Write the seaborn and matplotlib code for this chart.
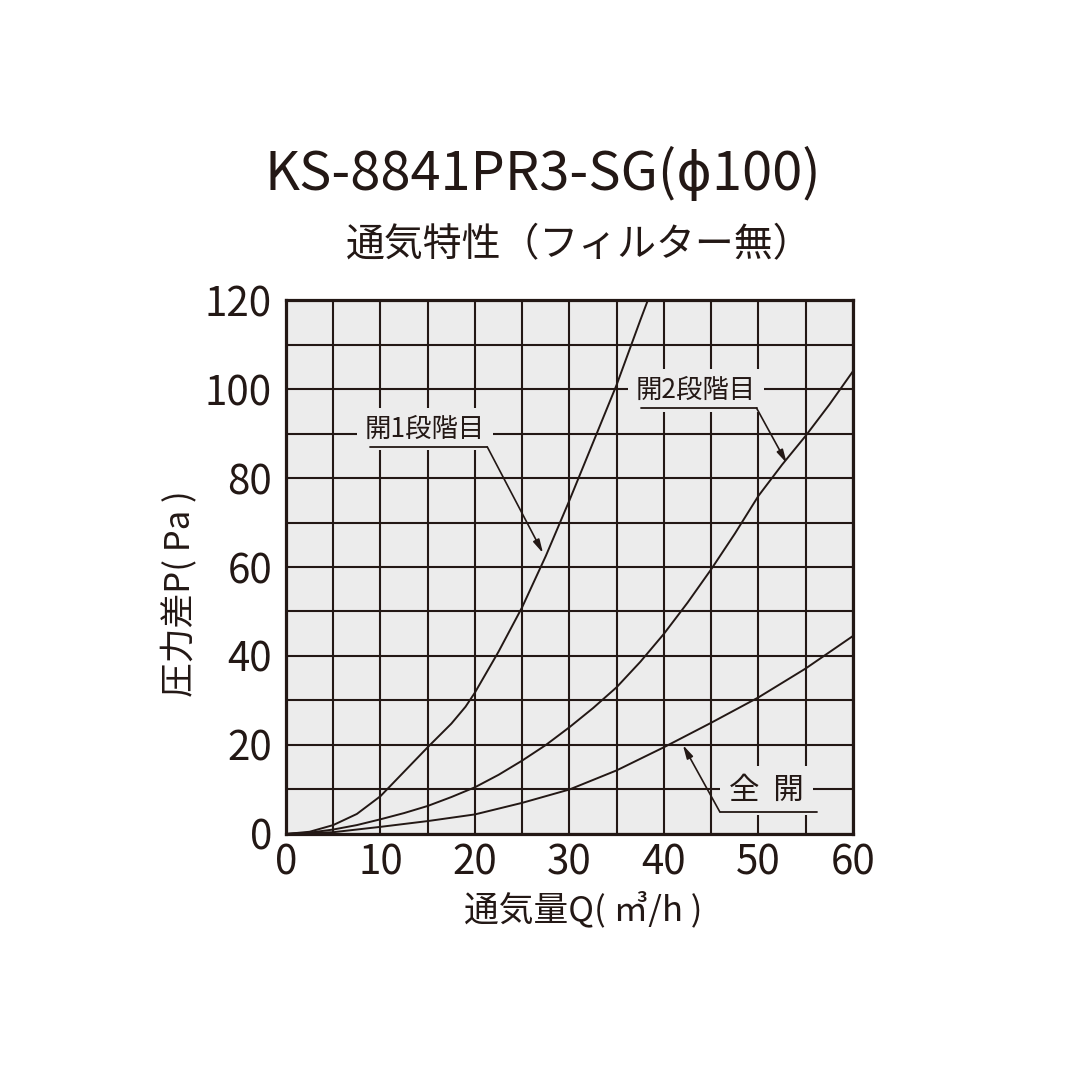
import pandas as pd
import matplotlib.pyplot as plt
import seaborn as sns

sns.set_style("white")
plt.rcParams['font.family'] = ['Noto Sans CJK JP', 'DejaVu Sans']

INK = "#231815"
BG = "#ececec"

# readings: airflow Q (m3/h) vs pressure difference P (Pa)
q_step1 = [0, 2.5, 5, 7.5, 10, 12.5, 15, 17.5, 19, 20, 22.5, 25, 27.5, 30, 32.5, 35, 37.5, 38.3]
p_step1 = [0, 0.5, 2, 4.5, 8.5, 14, 19.5, 24.8, 28.6, 31.8, 41, 51, 62.5, 75, 88, 101, 115.5, 120]

q_step2 = [0, 2.5, 5, 7.5, 10, 12.5, 15, 17.5, 20, 22.5, 25, 27.5, 30, 32.5, 35, 37.5,
           40, 42.5, 45, 47.5, 50, 52.5, 55, 57.5, 60]
p_step2 = [0, 0.3, 1, 2, 3.3, 4.7, 6.3, 8.3, 10.5, 13.3, 16.5, 20, 24, 28.3, 33, 38.7,
           45, 52, 59.5, 67.5, 76, 83, 89.5, 96.5, 104]

q_full = [0, 5, 10, 15, 20, 25, 30, 35, 40, 45, 50, 55, 60]
p_full = [0, 0.4, 1.6, 2.9, 4.4, 7, 10, 14.3, 19.5, 25, 30.7, 37.2, 44.5]

df = pd.concat([
    pd.DataFrame({"Q": q_step1, "P": p_step1, "mode": "開1段階目"}),
    pd.DataFrame({"Q": q_step2, "P": p_step2, "mode": "開2段階目"}),
    pd.DataFrame({"Q": q_full, "P": p_full, "mode": "全開"}),
])

# label text, text position, underline x-range and y, arrow tip
labels = [
    ("開1段階目", (14.7, 91.0), (8.9, 21.3), 87.0, (27.2, 63.1), 19),
    ("開2段階目", (43.4, 99.6), (37.6, 49.8), 95.7, (53.0, 83.3), 19),
    ("全  開", (50.8, 9.8), (56.2, 45.9), 5.0, (42.0, 20.0), 22),
]

fig = plt.figure(figsize=(10.8, 10.8), dpi=100)
ax = fig.add_axes([0.2648, 0.2278, 0.525, 0.4944])
ax.set_facecolor(BG)

sns.lineplot(data=df, x="Q", y="P", hue="mode", units="mode", estimator=None, sort=False,
             palette=[INK, INK, INK], linewidth=1.4, legend=False, ax=ax, zorder=4)

ax.set_xlim(0, 60)
ax.set_ylim(0, 120)
ax.set_xticks(range(0, 61, 10))
ax.set_xticks(range(0, 61, 5), minor=True)
ax.set_yticks(range(0, 121, 20))
ax.set_yticks(range(0, 121, 10), minor=True)
ax.grid(which="both", color=INK, linewidth=1.5, zorder=1)
ax.set_axisbelow(True)
ax.tick_params(which="both", length=0, labelsize=29, colors=INK)
ax.tick_params(axis="y", pad=10)
ax.tick_params(axis="x", pad=6)
ax.set_xlabel("")
ax.set_ylabel("")
for s in ax.spines.values():
    s.set_color(INK)
    s.set_linewidth(2.3)
    s.set_zorder(5)

for text, xy, (ux0, ux1), uy, tip, fs in labels:
    ax.text(xy[0], xy[1], text, ha="center", va="center", fontsize=fs, color=INK, zorder=3,
            bbox=dict(boxstyle="square,pad=0.3", fc=BG, ec="none"))
    ax.plot([ux0, ux1], [uy, uy], color=INK, lw=1.3, zorder=3)
    ax.annotate("", xy=tip, xytext=(ux1, uy),
                arrowprops=dict(arrowstyle="-|>,head_length=0.8,head_width=0.2", color=INK,
                                lw=1.2, shrinkA=0, shrinkB=0), zorder=3)

fig.text(0.503, 0.838, "KS-8841PR3-SG(ϕ100)", ha="center", va="center", fontsize=39, color=INK)
fig.text(0.536, 0.773, "通気特性（フィルター無）", ha="center", va="center", fontsize=28, color=INK)
fig.text(0.167, 0.45, "圧力差P( Pa )", ha="center", va="center", rotation=90, fontsize=25, color=INK)
fig.text(0.540, 0.157, "通気量Q( ㎥/h )", ha="center", va="center", fontsize=25, color=INK)

fig.savefig("out.png", dpi=100, facecolor="white")
